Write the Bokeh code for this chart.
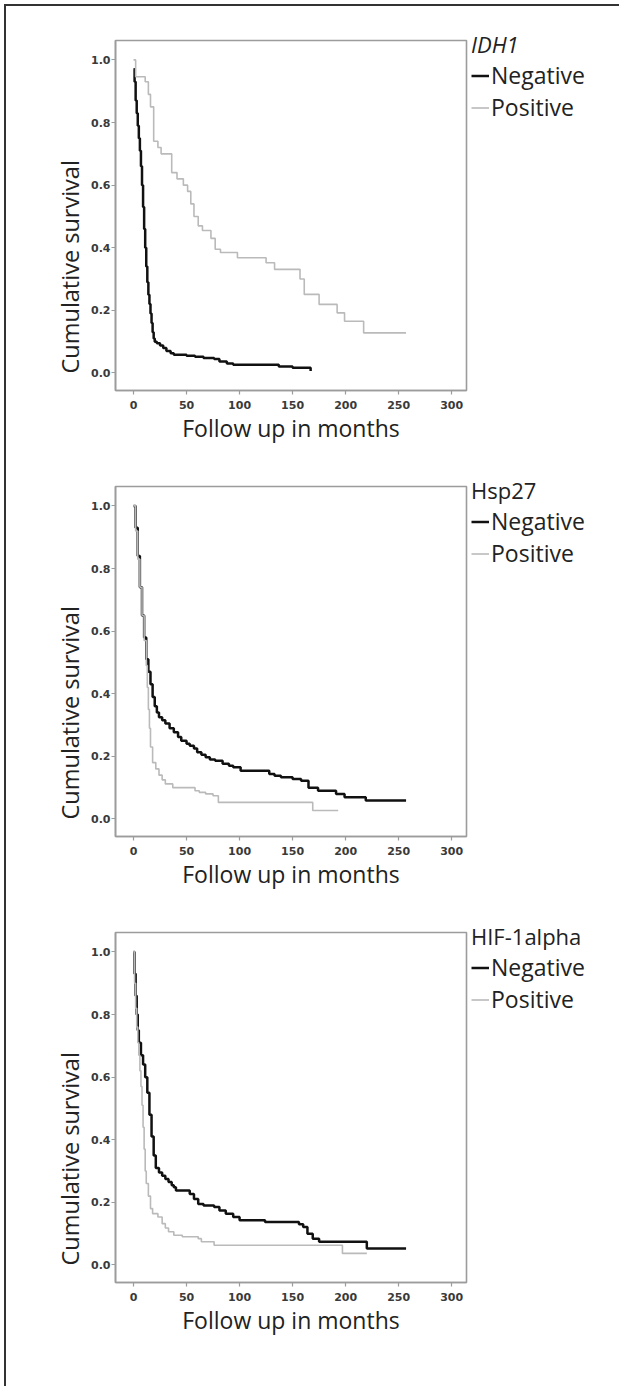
from bokeh.plotting import figure
from bokeh.models import (Range1d, FixedTicker, NumeralTickFormatter, Legend,
                          LegendItem, Title, Div)
from bokeh.layouts import column, row
from bokeh.embed import file_html
from bokeh.resources import INLINE

# ---------------- data ----------------
x_ticks = [0, 50, 100, 150, 200, 250, 300]
y_ticks = [0.0, 0.2, 0.4, 0.6, 0.8, 1.0]
x_title = "Follow up in months"
y_title = "Cumulative survival"
series_names = ["Negative", "Positive"]
legend_titles = ["IDH1", "Hsp27", "HIF-1alpha"]

# IDH1
idh1_neg_t = [0, 1, 2, 3, 4, 5, 6, 7, 8, 9, 10, 11, 12, 13, 14, 15, 16, 17, 18, 19,
              20, 22, 25, 28, 31, 35, 38, 50, 58, 66, 76, 81, 88, 94, 137, 150, 167]
idh1_neg_s = [0.97, 0.93, 0.87, 0.83, 0.79, 0.75, 0.71, 0.66, 0.60, 0.53, 0.46, 0.40,
              0.34, 0.29, 0.25, 0.22, 0.19, 0.16, 0.13, 0.11, 0.10, 0.095, 0.088, 0.08,
              0.07, 0.063, 0.058, 0.055, 0.052, 0.048, 0.045, 0.037, 0.030, 0.026,
              0.021, 0.017, 0.006]
idh1_pos_t = [0, 2, 11, 14, 16, 19, 23, 26, 36, 41, 47, 51, 54, 57, 61, 65, 73, 77,
              82, 98, 125, 133, 157, 161, 175, 192, 199, 217, 257]
idh1_pos_s = [1.0, 0.946, 0.93, 0.89, 0.85, 0.74, 0.72, 0.70, 0.64, 0.62, 0.60, 0.58,
              0.54, 0.50, 0.47, 0.455, 0.43, 0.395, 0.385, 0.368, 0.352, 0.331, 0.30,
              0.251, 0.219, 0.192, 0.165, 0.128, 0.128]

# Hsp27
hsp_neg_t = [0, 2, 4, 6, 8, 10, 12, 14, 16, 18, 20, 22, 24, 27, 30, 34, 38, 42, 45,
             50, 53, 57, 60, 64, 68, 72, 77, 84, 90, 94, 101, 128, 133, 139, 150, 158,
             165, 174, 191, 199, 219, 257]
hsp_neg_s = [1.0, 0.93, 0.84, 0.74, 0.65, 0.58, 0.51, 0.47, 0.43, 0.39, 0.36, 0.34,
             0.325, 0.315, 0.305, 0.29, 0.277, 0.262, 0.25, 0.24, 0.234, 0.225, 0.213,
             0.205, 0.197, 0.19, 0.186, 0.176, 0.17, 0.165, 0.154, 0.144, 0.138, 0.133,
             0.128, 0.122, 0.10, 0.09, 0.08, 0.069, 0.059, 0.059]
hsp_pos_t = [0, 2, 4, 6, 8, 10, 12, 13, 14, 15, 16, 18, 21, 24, 27, 30, 37, 58, 62,
             68, 75, 80, 169, 193]
hsp_pos_s = [1.0, 0.92, 0.83, 0.74, 0.65, 0.57, 0.49, 0.42, 0.35, 0.29, 0.23, 0.18,
             0.16, 0.14, 0.125, 0.112, 0.10, 0.09, 0.085, 0.08, 0.074, 0.053, 0.027,
             0.027]

# HIF-1alpha
hif_neg_t = [0, 1, 2, 3, 4, 5, 7, 9, 11, 13, 15, 17, 19, 21, 24, 27, 30, 33, 36, 38,
             40, 53, 57, 61, 66, 76, 81, 87, 94, 100, 124, 156, 160, 164, 169, 175,
             220, 257]
hif_neg_s = [1.0, 0.93, 0.86, 0.80, 0.75, 0.71, 0.67, 0.64, 0.60, 0.55, 0.48, 0.41,
             0.35, 0.31, 0.295, 0.285, 0.275, 0.265, 0.255, 0.248, 0.238, 0.227, 0.211,
             0.195, 0.19, 0.185, 0.174, 0.164, 0.153, 0.143, 0.137, 0.13, 0.121, 0.10,
             0.084, 0.074, 0.053, 0.053]
hif_pos_t = [0, 1, 2, 3, 4, 5, 6, 7, 8, 9, 10, 11, 12, 14, 16, 18, 23, 27, 30, 33,
             38, 46, 61, 64, 76, 197, 220]
hif_pos_s = [1.0, 0.90, 0.82, 0.76, 0.71, 0.67, 0.62, 0.57, 0.51, 0.44, 0.37, 0.30,
             0.26, 0.22, 0.18, 0.164, 0.153, 0.132, 0.118, 0.106, 0.095, 0.09, 0.084,
             0.074, 0.063, 0.037, 0.037]

panels = [
    (legend_titles[0], idh1_neg_t, idh1_neg_s, idh1_pos_t, idh1_pos_s, "italic"),
    (legend_titles[1], hsp_neg_t, hsp_neg_s, hsp_pos_t, hsp_pos_s, "normal"),
    (legend_titles[2], hif_neg_t, hif_neg_s, hif_pos_t, hif_pos_s, "normal"),
]

FONT = "Open Sans"
GRAY = "#9c9c9c"


def make_panel(title, nt, ns, pt, ps, title_style, bottom):
    p = figure(frame_width=351, frame_height=350, output_backend="svg",
               toolbar_location=None,
               x_range=Range1d(-17, 314), y_range=Range1d(-0.056, 1.062),
               min_border_left=109, min_border_right=145, min_border_top=34,
               min_border_bottom=bottom)
    p.background_fill_color = "white"
    p.border_fill_color = "white"
    p.outline_line_color = GRAY
    p.outline_line_width = 1.6
    p.xgrid.visible = False
    p.ygrid.visible = False

    for ax in (p.xaxis[0], p.yaxis[0]):
        ax.axis_line_color = GRAY
        ax.axis_line_width = 1.6
        ax.major_tick_line_color = GRAY
        ax.major_tick_line_width = 1.2
        ax.major_tick_out = 4
        ax.major_tick_in = 0
        ax.minor_tick_line_color = None
        ax.major_label_text_font = "DejaVu Sans"
        ax.major_label_text_font_style = "bold"
        ax.major_label_text_font_size = "11px"
        ax.major_label_text_color = "#3a3a3a"
    p.xaxis.major_label_standoff = 6
    p.yaxis.major_label_standoff = 1

    p.xaxis.ticker = FixedTicker(ticks=x_ticks)
    p.yaxis.ticker = FixedTicker(ticks=y_ticks)
    p.yaxis.formatter = NumeralTickFormatter(format="0.0")
    p.xaxis.axis_label = x_title
    p.xaxis.axis_label_text_font = FONT
    p.xaxis.axis_label_text_font_style = "normal"
    p.xaxis.axis_label_text_font_size = "23px"
    p.xaxis.axis_label_text_color = "#222222"
    p.xaxis.axis_label_standoff = 0

    r_neg = p.step(nt, ns, mode="after", line_color="#111111", line_width=2.5)
    r_pos = p.step(pt, ps, mode="after", line_color="#bababa", line_width=1.6)

    ytitle = Title(text=y_title, align="left", offset=17, standoff=5,
                   text_font=FONT, text_font_size="23.5px",
                   text_font_style="normal", text_color="#222222")
    p.add_layout(ytitle, "left")

    legend = Legend(items=[LegendItem(label=series_names[0], renderers=[r_neg]),
                           LegendItem(label=series_names[1], renderers=[r_pos])],
                    location=(5, 267), title=title)
    legend.title_text_font = FONT
    legend.title_text_font_size = "22px"
    legend.title_text_font_style = title_style
    legend.title_text_color = "#222222"
    legend.title_standoff = 0
    legend.label_text_font = FONT
    legend.label_text_font_size = "23px"
    legend.label_text_color = "#222222"
    legend.label_height = 23
    legend.glyph_height = 23
    legend.glyph_width = 18
    legend.label_standoff = 2
    legend.spacing = 0
    legend.padding = 0
    legend.margin = 0
    legend.border_line_color = None
    legend.background_fill_alpha = 0
    p.add_layout(legend, "right")
    return p


figs = []
bottoms = [62, 62, 100]
for (title, nt, ns, pt, ps, st), b in zip(panels, bottoms):
    figs.append(make_panel(title, nt, ns, pt, ps, st, b))

top_bar = Div(text="", width=613, height=2, margin=(4, 0, 0, 0),
              styles={"background-color": "#333333"})
left_bar = Div(text="", width=2, height=1382, margin=(4, 0, 0, 4),
               styles={"background-color": "#333333"})

layout = row(left_bar, column(top_bar, *figs, spacing=0), spacing=0)

open("out.html", "w").write(file_html(layout, INLINE))
